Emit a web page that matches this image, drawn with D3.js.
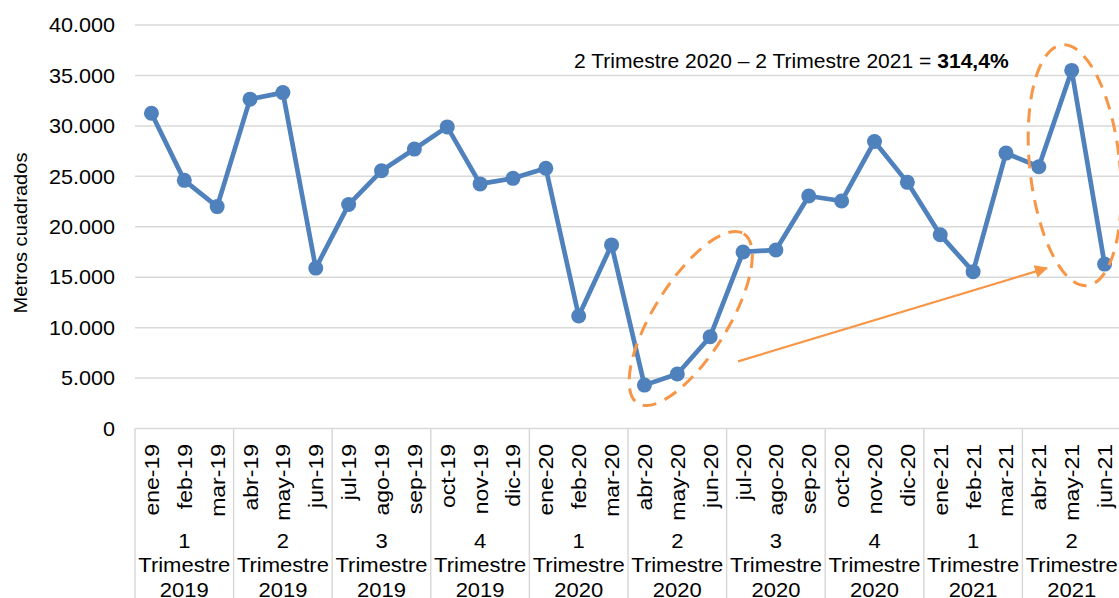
<!DOCTYPE html>
<html>
<head>
<meta charset="utf-8">
<script src="https://cdn.jsdelivr.net/npm/d3@7/dist/d3.min.js"></script>
<style>
  body { margin: 0; background: #fff; }
  svg { display: block; font-family: "Liberation Sans", Arial, sans-serif; }
</style>
</head>
<body>
<script>
// months shown on the x axis
var months = ["ene-19","feb-19","mar-19","abr-19","may-19","jun-19","jul-19","ago-19","sep-19","oct-19","nov-19","dic-19",
              "ene-20","feb-20","mar-20","abr-20","may-20","jun-20","jul-20","ago-20","sep-20","oct-20","nov-20","dic-20",
              "ene-21","feb-21","mar-21","abr-21","may-21","jun-21"];

// square meters per month
var values = [31250, 24600, 22000, 32650, 33300, 15900, 22200, 25550, 27700, 29900, 24250, 24800,
              25800, 11150, 18200, 4300, 5400, 9100, 17500, 17700, 23050, 22550, 28450, 24400,
              19200, 15550, 27300, 25950, 35500, 16300];

// quarter groups
var quarters = ["1","2","3","4","1","2","3","4","1","2"];
var quarterYears = ["2019","2019","2019","2019","2020","2020","2020","2020","2021","2021"];

var yTicks = [0, 5000, 10000, 15000, 20000, 25000, 30000, 35000, 40000];

var width = 1119, height = 598;
var plotLeft = 135, plotRight = 1121, plotTop = 25, plotBottom = 428.5;
var stretch = 1.08;   // the original text is a bit wider than Arial

var svg = d3.select("body").append("svg")
    .attr("width", width)
    .attr("height", height);

var x = d3.scaleBand()
    .domain(months)
    .range([plotLeft, plotRight]);

var y = d3.scaleLinear()
    .domain([0, 40000])
    .range([plotBottom, plotTop]);

var fmt = function(v) { return d3.format(",")(v).replace(/,/g, "."); };
var cx = function(m) { return x(m) + x.bandwidth() / 2; };

// gridlines
svg.append("g").selectAll("line")
    .data(yTicks.slice(1))
    .enter().append("line")
    .attr("x1", plotLeft)
    .attr("x2", plotRight)
    .attr("y1", function(d) { return y(d); })
    .attr("y2", function(d) { return y(d); })
    .attr("stroke", "#d9d9d9")
    .attr("stroke-width", 1.5);

// y tick labels
svg.append("g").selectAll("text")
    .data(yTicks)
    .enter().append("text")
    .attr("transform", function(d) { return "translate(115," + y(d) + ") scale(" + stretch + ",1)"; })
    .attr("dy", "0.36em")
    .attr("text-anchor", "end")
    .attr("font-size", "20px")
    .attr("fill", "#000")
    .text(function(d) { return fmt(d); });

// y axis title
svg.append("text")
    .attr("transform", "translate(27,233) rotate(-90) scale(1.06,1)")
    .attr("text-anchor", "middle")
    .attr("font-size", "19px")
    .text("Metros cuadrados");

// x axis line
svg.append("line")
    .attr("x1", plotLeft).attr("x2", plotRight)
    .attr("y1", plotBottom).attr("y2", plotBottom)
    .attr("stroke", "#d9d9d9")
    .attr("stroke-width", 1.5);

// quarter separators
var qBounds = d3.range(quarters.length + 1).map(function(i) {
    return i < quarters.length ? x(months[i * 3]) : plotRight;
});
svg.append("g").selectAll("line")
    .data(qBounds)
    .enter().append("line")
    .attr("x1", function(d) { return d; })
    .attr("x2", function(d) { return d; })
    .attr("y1", plotBottom)
    .attr("y2", height)
    .attr("stroke", "#d9d9d9")
    .attr("stroke-width", 1.5);

// month labels
svg.append("g").selectAll("text")
    .data(months)
    .enter().append("text")
    .attr("transform", function(d) { return "translate(" + (cx(d) + 7.5) + ",444) rotate(-90) scale(1.15,1)"; })
    .attr("text-anchor", "end")
    .attr("font-size", "20px")
    .text(function(d) { return d; });

// quarter labels
var qMid = function(d, i) { return (qBounds[i] + qBounds[i + 1]) / 2; };
var qg = svg.append("g").selectAll("text")
    .data(quarters)
    .enter().append("text")
    .attr("transform", function(d, i) { return "translate(" + qMid(d, i) + ",548) scale(1.1,1)"; })
    .attr("text-anchor", "middle")
    .attr("font-size", "20px");
qg.append("tspan").attr("x", 0)
    .text(function(d) { return d; });
qg.append("tspan").attr("x", 0)
    .attr("dy", 24.5).text("Trimestre");
qg.append("tspan").attr("x", 0)
    .attr("dy", 24.5).text(function(d, i) { return quarterYears[i]; });

// series line
var line = d3.line()
    .x(function(d, i) { return cx(months[i]); })
    .y(function(d) { return y(d); });

svg.append("path")
    .datum(values)
    .attr("d", line)
    .attr("fill", "none")
    .attr("stroke", "#4f81bd")
    .attr("stroke-width", 4.7)
    .attr("stroke-linejoin", "round");

svg.append("g").selectAll("circle")
    .data(values)
    .enter().append("circle")
    .attr("cx", function(d, i) { return cx(months[i]); })
    .attr("cy", function(d) { return y(d); })
    .attr("r", 7.5)
    .attr("fill", "#4f81bd");

// highlight ellipses
var orange = "#f79646";
var e1x = (cx("abr-20") + cx("jul-20")) / 2, e1y = y((4300 + 17500) / 2);
svg.append("ellipse")
    .attr("transform", "translate(" + (e1x - 3) + "," + (e1y) + ") rotate(-58)")
    .attr("rx", 100)
    .attr("ry", 37)
    .attr("fill", "none")
    .attr("stroke", orange)
    .attr("stroke-width", 3)
    .attr("stroke-dasharray", "14,9");

var e2x = cx("may-21"), e2y = y((35500 + 16300) / 2);
svg.append("ellipse")
    .attr("transform", "translate(" + (e2x + 3) + "," + (e2y - 2) + ") rotate(-6)")
    .attr("rx", 45)
    .attr("ry", 121)
    .attr("fill", "none")
    .attr("stroke", orange)
    .attr("stroke-width", 3)
    .attr("stroke-dasharray", "14,9");

// arrow between the two quarters
svg.append("defs").append("marker")
    .attr("id", "arrow")
    .attr("viewBox", "0 0 10 10")
    .attr("refX", 9).attr("refY", 5)
    .attr("markerWidth", 6).attr("markerHeight", 6)
    .attr("orient", "auto")
    .append("path")
    .attr("d", "M0,0L10,5L0,10Z")
    .attr("fill", orange);

svg.append("line")
    .attr("x1", cx("jul-20") - 5).attr("y1", y(6650))
    .attr("x2", cx("abr-21") + 8).attr("y2", y(15900))
    .attr("stroke", orange)
    .attr("stroke-width", 2.2)
    .attr("marker-end", "url(#arrow)");

// annotation
var note = svg.append("text")
    .attr("transform", "translate(574,68) scale(" + stretch + ",1)")
    .attr("font-size", "19.5px");
note.append("tspan").text("2 Trimestre 2020 \u2013 2 Trimestre 2021 = ");
note.append("tspan").attr("font-weight", "bold").text("314,4%");
</script>
</body>
</html>
